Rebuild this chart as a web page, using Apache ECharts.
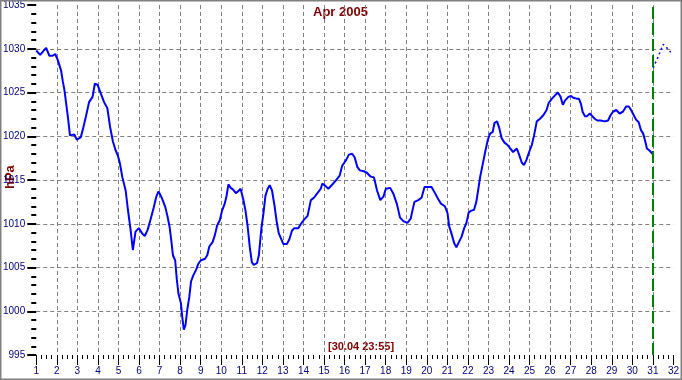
<!DOCTYPE html>
<html>
<head>
<meta charset="utf-8">
<script src="https://cdn.jsdelivr.net/npm/echarts@6/dist/echarts.min.js"></script>
<style>
html,body{margin:0;padding:0;background:#fff;}
#c{width:682px;height:380px;}
</style>
</head>
<body>
<div id="c"></div>
<script>
var title = 'Apr 2005';
var yName = 'hPa';
var stamp = '[30.04 23:55]';
var nowDay = 31;

var days = [1.00,1.19,1.48,1.64,1.80,1.92,2.05,2.21,2.29,2.37,2.48,2.56,2.64,2.72,2.85,2.98,3.17,3.28,3.41,3.57,3.74,3.85,3.98,4.14,4.30,4.46,4.59,4.73,4.86,4.97,5.07,5.19,5.35,5.46,5.59,5.70,5.83,5.99,6.15,6.28,6.42,6.55,6.71,6.84,6.95,7.08,7.16,7.28,7.39,7.49,7.57,7.65,7.76,7.84,7.92,8.04,8.10,8.18,8.26,8.35,8.45,8.53,8.64,8.77,8.88,9.00,9.21,9.32,9.42,9.58,9.69,9.80,9.93,10.04,10.17,10.26,10.35,10.46,10.58,10.71,10.82,10.94,11.07,11.18,11.28,11.39,11.49,11.58,11.74,11.83,11.95,12.06,12.15,12.26,12.36,12.47,12.59,12.70,12.80,12.91,13.02,13.20,13.31,13.44,13.55,13.75,13.88,14.04,14.20,14.36,14.52,14.68,14.84,14.92,15.08,15.21,15.37,15.56,15.76,15.88,16.08,16.21,16.37,16.49,16.62,16.74,16.94,17.10,17.26,17.43,17.58,17.74,17.89,18.01,18.22,18.38,18.54,18.70,18.86,19.06,19.22,19.30,19.40,19.59,19.75,19.89,20.05,20.23,20.40,20.56,20.69,20.88,21.01,21.09,21.20,21.33,21.44,21.56,21.69,21.82,21.93,22.04,22.17,22.30,22.41,22.49,22.60,22.73,22.84,22.97,23.08,23.21,23.29,23.42,23.53,23.64,23.77,23.93,24.06,24.20,24.38,24.49,24.62,24.73,24.85,24.98,25.11,25.22,25.35,25.51,25.67,25.83,25.93,26.09,26.25,26.38,26.51,26.62,26.73,26.89,27.02,27.13,27.29,27.40,27.50,27.58,27.69,27.80,27.93,28.05,28.17,28.30,28.46,28.66,28.82,28.94,29.06,29.22,29.30,29.38,29.54,29.70,29.83,29.94,30.07,30.18,30.31,30.42,30.53,30.63,30.71,30.82,30.98];

var pressure = [1029.8,1029.3,1030.1,1029.2,1029.2,1029.4,1028.7,1027.5,1026.3,1025.3,1023.3,1021.8,1020.1,1019.9,1020.2,1019.6,1019.9,1020.9,1022.2,1023.9,1024.5,1026.0,1025.9,1024.9,1023.9,1023.2,1021.1,1019.4,1018.4,1017.8,1016.9,1015.3,1013.8,1011.6,1009.3,1007.0,1009.1,1009.5,1008.9,1008.6,1009.3,1010.4,1011.8,1013.1,1013.7,1013.1,1012.65,1011.9,1010.8,1009.6,1008.1,1006.4,1005.8,1003.6,1002.0,1000.9,999.4,997.9,998.4,1000.2,1001.7,1003.4,1004.1,1004.7,1005.4,1005.8,1006.0,1006.4,1007.4,1007.9,1008.7,1009.8,1010.4,1011.5,1012.3,1013.2,1014.5,1014.1,1013.9,1013.5,1013.7,1014.0,1012.8,1011.5,1009.8,1007.3,1005.6,1005.3,1005.5,1006.4,1009.4,1011.3,1013.2,1014.0,1014.4,1013.8,1012.1,1010.2,1008.9,1008.3,1007.7,1007.7,1008.2,1009.2,1009.5,1009.5,1010.0,1010.5,1010.9,1012.7,1013.0,1013.5,1014.0,1014.6,1014.3,1014.0,1014.4,1014.9,1015.5,1016.6,1017.3,1017.9,1018.0,1017.6,1016.5,1016.1,1016.0,1015.8,1015.4,1015.3,1013.8,1012.7,1013.1,1014.0,1014.1,1013.4,1012.3,1010.7,1010.3,1010.1,1010.6,1011.5,1012.5,1012.7,1013.0,1014.2,1014.2,1014.2,1013.5,1012.8,1012.3,1012.0,1011.2,1009.7,1008.9,1007.8,1007.3,1007.9,1008.5,1009.5,1010.1,1011.3,1011.5,1011.6,1012.5,1013.7,1015.4,1016.9,1018.2,1019.6,1020.3,1020.5,1021.5,1021.7,1020.9,1019.8,1019.3,1019.0,1018.6,1018.2,1018.6,1017.9,1017.0,1016.7,1017.3,1018.2,1019.0,1020.1,1021.7,1022.0,1022.4,1023.0,1023.8,1024.3,1024.7,1025.0,1024.5,1023.6,1024.1,1024.5,1024.6,1024.4,1024.3,1024.3,1023.7,1022.8,1022.3,1022.3,1022.6,1022.3,1022.0,1021.8,1021.8,1021.7,1021.8,1022.4,1022.8,1023.0,1023.2,1022.6,1022.8,1023.4,1023.4,1023.0,1022.4,1021.9,1021.6,1020.7,1020.3,1019.4,1018.6,1018.4,1018.0];

var fcDays = [31.01,31.26,31.50,31.70,31.87];
var fcPressure = [1027.8,1029.1,1030.5,1030.05,1029.6];

var xMin = 1, xMax = 32, yMin = 995, yMax = 1035;

var obs = days.map(function(d,i){return [d, pressure[i]];});
var fc = fcDays.map(function(d,i){return [d, fcPressure[i]];});

var FONT = '"Liberation Sans", Arial, sans-serif';
var chart = echarts.init(document.getElementById('c'), null, {renderer:'canvas'});
chart.setOption({
  animation: false,
  backgroundColor: '#ffffff',
  grid: {left: 35, right: 5, top: 5, bottom: 25, containLabel: false},
  xAxis: {
    type: 'value', min: xMin, max: xMax, interval: 1,
    axisLine: {show: false},
    axisTick: {show: true, length: 10, lineStyle: {color: '#000', width: 1}},
    minorTick: {show: true, splitNumber: 4, length: 4, lineStyle: {color: '#000', width: 1}},
    axisLabel: {color: '#000080', fontFamily: FONT, fontSize: 10, margin: 11, formatter: function(v){return String(v);}},
    splitLine: {show: true, showMinLine: false, showMaxLine: false, lineStyle: {color: '#808080', type: [4,3], width: 1}}
  },
  yAxis: {
    type: 'value', min: yMin, max: yMax, interval: 5,
    axisLine: {show: false},
    axisTick: {show: true, length: 9, lineStyle: {color: '#000', width: 2}},
    minorTick: {show: true, splitNumber: 5, length: 5, lineStyle: {color: '#000', width: 2}},
    axisLabel: {color: '#000080', fontFamily: FONT, fontSize: 10, margin: 11, formatter: function(v){return String(v);}},
    splitLine: {show: true, showMinLine: false, showMaxLine: false, lineStyle: {color: '#808080', type: [4,3], width: 1}}
  },
  graphic: [
    {type: 'text', left: 313, top: 6, style: {text: title, fill: '#800000', font: 'bold 13px ' + FONT}},
    {type: 'text', x: 4, y: 189, rotation: Math.PI/2, style: {text: yName, fill: '#800000', font: 'bold 13px ' + FONT}},
    {type: 'text', left: 328, top: 341, style: {text: stamp, fill: '#800000', font: 'bold 11px ' + FONT}},
    {type: 'rect', shape: {x: 0, y: 0, width: 682, height: 380}, style: {fill: 'none', stroke: '#808080', lineWidth: 3}, z: 100}
  ],
  series: [
    {
      type: 'line', data: obs, showSymbol: false, smooth: false,
      lineStyle: {color: '#0000ff', width: 2},
      markLine: {
        silent: true, symbol: ['none','none'], label: {show: false},
        lineStyle: {color: '#008000', type: [12,4], width: 2},
        data: [{xAxis: nowDay}]
      }
    },
    {
      type: 'line', data: fc, showSymbol: false,
      lineStyle: {color: '#0000ff', width: 1.5, type: [2,3]}
    }
  ]
});
</script>
</body>
</html>
